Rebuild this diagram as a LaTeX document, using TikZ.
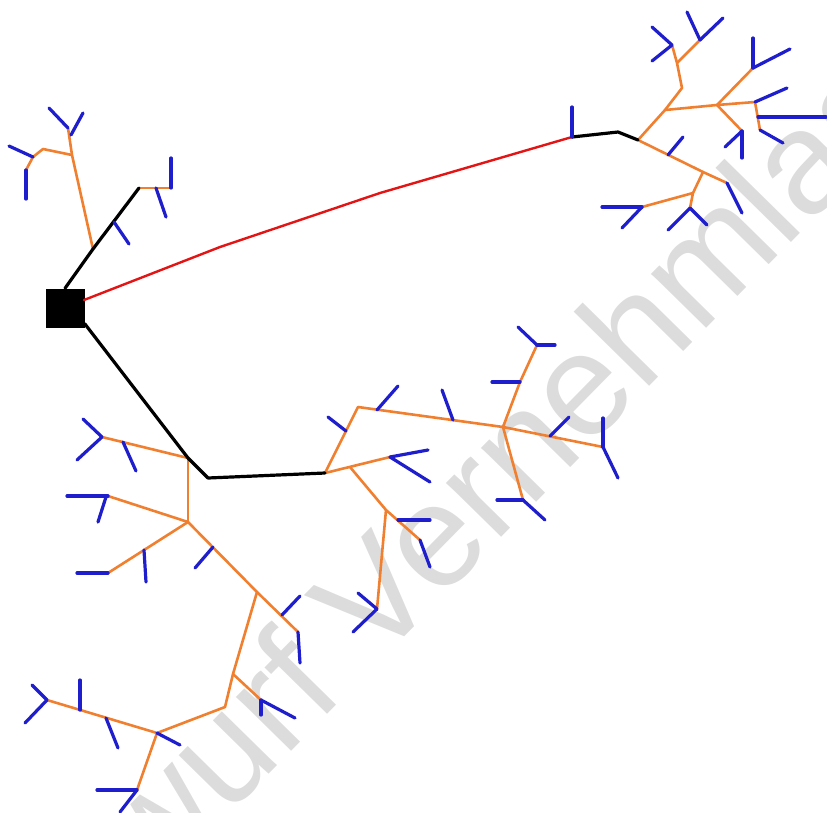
\documentclass[tikz,border=0pt]{standalone}
\usepackage{fontspec}
\setmainfont{Liberation Sans}
\definecolor{dendC}{RGB}{240,128,48}
\definecolor{spineC}{RGB}{30,30,205}
\definecolor{axonC}{RGB}{228,20,20}
\definecolor{wmC}{RGB}{220,220,220}
\tikzset{
  ax/.style={draw=black, line width=3.2pt, line join=round, line cap=round},
  redax/.style={draw=axonC, line width=2.4pt, line join=round, line cap=round},
  den/.style={draw=dendC, line width=2.6pt, line join=round, line cap=round},
  spn/.style={draw=spineC, line width=3.2pt, line cap=round},
  wmark/.style={text=wmC, font=\fontsize{146}{146}\selectfont, inner sep=0pt}
}
\begin{document}
\begin{tikzpicture}[x=1pt,y=-1pt]
\useasboundingbox (0,0) rectangle (827,812);
\begin{scope}
\clip (0,0) rectangle (827,812);
\node[wmark, rotate=45.5, anchor=base west] (wm) at (0,1048) {Entwurf Vernehmlassung};
\end{scope}

% soma
\node[fill=black, minimum size=39pt, inner sep=0pt] (soma) at (65,308) {};

% ---------- upper-left branch
\coordinate (u1) at (93,249);
\coordinate (u2) at (139,188);
\coordinate (u3) at (171,188);
\coordinate (u3s) at (171,158);
\coordinate (u3t) at (156,188);
\coordinate (u3te) at (166,217);
\coordinate (u1t) at (114,222);
\coordinate (u1te) at (129,244);
\coordinate (u4) at (72,155);
\coordinate (u5) at (68,128);
\coordinate (u5a) at (49,108);
\coordinate (u5t) at (71,135);
\coordinate (u5te) at (83,113);
\coordinate (u6) at (43,149);
\coordinate (u7) at (33,157);
\coordinate (u7e) at (9,146);
\coordinate (u8) at (26,170);
\coordinate (u8e) at (26,199);

\draw[den] (u1) -- (u4) -- (u5);
\draw[den] (u4) -- (u6) -- (u7) -- (u8);
\draw[den] (u2) -- (u3);
\draw[ax] (soma.north) -- (u1) -- (u2);
\draw[spn] (u3) -- (u3s);
\draw[spn] (u3t) -- (u3te);
\draw[spn] (u1t) -- (u1te);
\draw[spn] (u5) -- (u5a);
\draw[spn] (u5t) -- (u5te);
\draw[spn] (u7) -- (u7e);
\draw[spn] (u8) -- (u8e);

% ---------- red axon to upper right
\coordinate (r0) at (84,300);
\coordinate (rA) at (220,247);
\coordinate (rB) at (380,193);
\coordinate (r1) at (572,137);
\coordinate (r1e) at (572,107);
\coordinate (r2) at (618,132);
\coordinate (r3) at (638,140);
\draw[redax] (r0) -- (rA) -- (rB) -- (r1);

% ---------- upper-right tree
\coordinate (r4) at (665,110);
\coordinate (r5) at (682,88);
\coordinate (r6) at (677,63);
\coordinate (r7) at (672,45);
\coordinate (r7a) at (652,27);
\coordinate (r7b) at (652,61);
\coordinate (r8) at (700,40);
\coordinate (r8a) at (687,12);
\coordinate (r8b) at (723,18);
\coordinate (r9) at (717,105);
\coordinate (r10) at (755,102);
\coordinate (r11) at (760,130);
\coordinate (r10e) at (787,88);
\coordinate (r10t) at (758,117);
\coordinate (r10te) at (826,117);
\coordinate (r11e) at (783,143);
\coordinate (r12) at (753,68);
\coordinate (r12a) at (753,38);
\coordinate (r12b) at (790,49);
\coordinate (r13) at (742,131);
\coordinate (r13a) at (742,158);
\coordinate (r13b) at (725,147);
\coordinate (r14) at (703,172);
\coordinate (r15) at (727,183);
\coordinate (r15e) at (742,213);
\coordinate (r3t) at (668,155);
\coordinate (r3te) at (683,137);
\coordinate (r16) at (693,193);
\coordinate (r17) at (690,208);
\coordinate (r17a) at (668,230);
\coordinate (r17b) at (707,225);
\coordinate (r18) at (642,207);
\coordinate (r18a) at (602,207);
\coordinate (r18b) at (622,228);

\draw[den] (r3) -- (r4) -- (r5) -- (r6) -- (r7);
\draw[den] (r6) -- (r8);
\draw[den] (r4) -- (r9) -- (r10) -- (r11);
\draw[den] (r9) -- (r12);
\draw[den] (r9) -- (r13);
\draw[den] (r3) -- (r14) -- (r15);
\draw[den] (r14) -- (r16) -- (r17);
\draw[den] (r16) -- (r18);
\draw[ax] (r1) -- (r2) -- (r3);
\draw[spn] (r1) -- (r1e);
\draw[spn] (r7) -- (r7a);
\draw[spn] (r7) -- (r7b);
\draw[spn] (r8) -- (r8a);
\draw[spn] (r8) -- (r8b);
\draw[spn] (r10) -- (r10e);
\draw[spn] (r10t) -- (r10te);
\draw[spn] (r11) -- (r11e);
\draw[spn] (r12) -- (r12a);
\draw[spn] (r12) -- (r12b);
\draw[spn] (r13) -- (r13a);
\draw[spn] (r13) -- (r13b);
\draw[spn] (r15) -- (r15e);
\draw[spn] (r3t) -- (r3te);
\draw[spn] (r17) -- (r17a);
\draw[spn] (r17) -- (r17b);
\draw[spn] (r18) -- (r18a);
\draw[spn] (r18) -- (r18b);

% ---------- lower black axon
\coordinate (lb1) at (188,458);
\coordinate (lb2) at (208,478);
\coordinate (lb3) at (325,473);

% ---------- lower-left tree
\coordinate (l1) at (188,522);
\coordinate (l2) at (102,437);
\coordinate (l2a) at (83,419);
\coordinate (l2b) at (77,460);
\coordinate (l2t) at (123,442);
\coordinate (l2te) at (136,471);
\coordinate (l3) at (108,496);
\coordinate (l3a) at (67,496);
\coordinate (l3t) at (106,497);
\coordinate (l3te) at (98,522);
\coordinate (l4) at (108,573);
\coordinate (l4a) at (77,573);
\coordinate (l4t) at (144,550);
\coordinate (l4te) at (146,582);
\coordinate (l5) at (257,592);
\coordinate (l6) at (298,632);
\coordinate (l6e) at (300,663);
\coordinate (l5t) at (213,547);
\coordinate (l5te) at (195,568);
\coordinate (l6t) at (282,615);
\coordinate (l6te) at (300,596);
\coordinate (l7) at (233,674);
\coordinate (l8) at (225,707);
\coordinate (l9) at (261,700);
\coordinate (l9a) at (295,718);
\coordinate (l9b) at (261,715);
\coordinate (l10) at (157,733);
\coordinate (l10e) at (180,745);
\coordinate (l11) at (47,700);
\coordinate (l11a) at (32,685);
\coordinate (l11b) at (25,723);
\coordinate (l11t) at (80,710);
\coordinate (l11te) at (80,680);
\coordinate (l11u) at (106,718);
\coordinate (l11ue) at (118,748);
\coordinate (l12) at (137,790);
\coordinate (l12a) at (97,790);
\coordinate (l12b) at (120,812);

\draw[den] (lb1) -- (l1);
\draw[den] (lb1) -- (l2);
\draw[den] (l1) -- (l3);
\draw[den] (l1) -- (l4);
\draw[den] (l1) -- (l5) -- (l6);
\draw[den] (l5) -- (l7) -- (l8) -- (l10) -- (l11);
\draw[den] (l7) -- (l9);
\draw[den] (l10) -- (l12);
\draw[spn] (l2) -- (l2a);
\draw[spn] (l2) -- (l2b);
\draw[spn] (l2t) -- (l2te);
\draw[spn] (l3) -- (l3a);
\draw[spn] (l3t) -- (l3te);
\draw[spn] (l4) -- (l4a);
\draw[spn] (l4t) -- (l4te);
\draw[spn] (l6) -- (l6e);
\draw[spn] (l5t) -- (l5te);
\draw[spn] (l6t) -- (l6te);
\draw[spn] (l9) -- (l9a);
\draw[spn] (l9) -- (l9b);
\draw[spn] (l10) -- (l10e);
\draw[spn] (l11) -- (l11a);
\draw[spn] (l11) -- (l11b);
\draw[spn] (l11t) -- (l11te);
\draw[spn] (l11u) -- (l11ue);
\draw[spn] (l12) -- (l12a);
\draw[spn] (l12) -- (l12b);

% ---------- middle tree
\coordinate (m1) at (358,407);
\coordinate (m2) at (503,427);
\coordinate (m3) at (603,447);
\coordinate (m3a) at (603,418);
\coordinate (m3b) at (618,478);
\coordinate (m3t) at (550,436);
\coordinate (m3te) at (569,417);
\coordinate (m1t) at (346,431);
\coordinate (m1te) at (328,417);
\coordinate (m1u) at (377,410);
\coordinate (m1ue) at (398,386);
\coordinate (m1v) at (453,420);
\coordinate (m1ve) at (442,390);
\coordinate (m4) at (520,382);
\coordinate (m5) at (537,345);
\coordinate (m5a) at (555,345);
\coordinate (m5b) at (518,327);
\coordinate (m4e) at (492,382);
\coordinate (m6) at (523,500);
\coordinate (m6a) at (497,500);
\coordinate (m6b) at (545,520);
\coordinate (m7) at (390,457);
\coordinate (m7a) at (428,450);
\coordinate (m7b) at (430,482);
\coordinate (m8) at (350,467);
\coordinate (m9) at (386,510);
\coordinate (m10) at (420,540);
\coordinate (m10e) at (430,567);
\coordinate (m9t) at (398,520);
\coordinate (m9te) at (430,520);
\coordinate (m11) at (377,609);
\coordinate (m11a) at (358,593);
\coordinate (m11b) at (353,632);

\draw[den] (lb3) -- (m1) -- (m2) -- (m3);
\draw[den] (m2) -- (m4) -- (m5);
\draw[den] (m2) -- (m6);
\draw[den] (lb3) -- (m7);
\draw[den] (m8) -- (m9) -- (m10);
\draw[den] (m9) -- (m11);
\draw[spn] (m3) -- (m3a);
\draw[spn] (m3) -- (m3b);
\draw[spn] (m3t) -- (m3te);
\draw[spn] (m1t) -- (m1te);
\draw[spn] (m1u) -- (m1ue);
\draw[spn] (m1v) -- (m1ve);
\draw[spn] (m5) -- (m5a);
\draw[spn] (m5) -- (m5b);
\draw[spn] (m4) -- (m4e);
\draw[spn] (m6) -- (m6a);
\draw[spn] (m6) -- (m6b);
\draw[spn] (m7) -- (m7a);
\draw[spn] (m7) -- (m7b);
\draw[spn] (m10) -- (m10e);
\draw[spn] (m9t) -- (m9te);
\draw[spn] (m11) -- (m11a);
\draw[spn] (m11) -- (m11b);

\draw[ax] ([yshift=4pt]soma.south east) -- (lb1) -- (lb2) -- (lb3);
\end{tikzpicture}
\end{document}
